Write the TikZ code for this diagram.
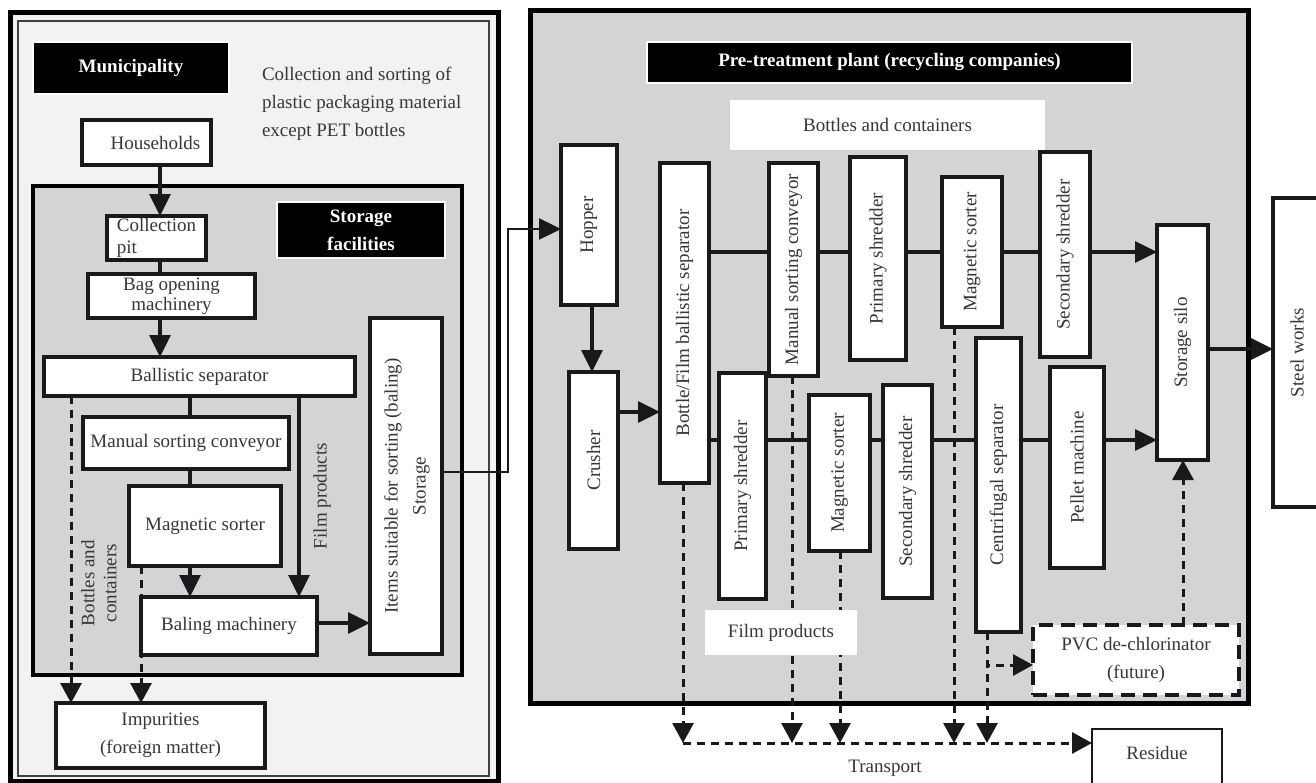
\documentclass[tikz,border=0pt]{standalone}
\usepackage{fontspec}
\setmainfont{Liberation Serif}
\usepackage{graphicx}
\usetikzlibrary{arrows.meta,calc}
\definecolor{panelgray}{RGB}{211,212,214}
\definecolor{lightbg}{RGB}{241,242,241}
\definecolor{txt}{RGB}{55,55,55}
\newcommand{\drawbox}[7]{\node[#6, minimum width={(#4)-(#2)}, minimum height={(#5)-(#3)}] (#1) at ({((#2)+(#4))/2},{((#3)+(#5))/2}) {#7};}
\tikzset{
 base/.style={inner sep=0pt, outer sep=0pt, text=txt, font=\fontsize{19}{28}\selectfont, align=center},
 box/.style={base, draw=black!90, line width=3.2pt, fill=white},
 frame/.style={base, draw=black, line width=5pt, fill=panelgray},
 title/.style={base, fill=black, draw=white, line width=1.5pt, text=white, font=\fontsize{19}{28}\selectfont\bfseries},
 conn/.style={draw=black!90, line width=3.2pt},
 arr/.style={conn, -{Triangle[length=22pt,width=21pt]}},
 dconn/.style={draw=black!90, line width=3pt, dash pattern=on 8pt off 6pt},
 darr/.style={dconn, -{Triangle[length=20pt,width=21pt]}},
}
\begin{document}
\begin{tikzpicture}[x=1pt,y=-1pt]
\useasboundingbox (0,0) rectangle (1316,782);
% ---------- left panel ----------
\drawbox{lpo}{10}{12}{498}{781}{base,draw=black,line width=5pt,fill=lightbg}{}
\drawbox{lpi}{18}{21}{489}{776}{base,draw=black!75,line width=1.5pt}{}
\drawbox{muni}{33}{42}{229}{94}{title}{Municipality}
\node[base, align=left, anchor=west] (coll) at (262,104) {Collection and sorting of\\plastic packaging material\\except PET bottles};
\drawbox{hh}{82}{120}{211}{165}{box}{\hspace*{18pt}Households}
\drawbox{stf}{33}{186}{462}{675}{frame,line width=4pt}{}
\drawbox{stl}{277}{202}{445}{258}{title}{Storage\\facilities}
\drawbox{pit}{107}{216}{206}{260}{box,align=left,font=\fontsize{19}{22}\selectfont}{Collection\\pit}
\drawbox{bag}{88}{274}{255}{318}{box,font=\fontsize{19}{20}\selectfont}{Bag opening\\machinery}
\drawbox{bal}{44}{357}{355}{396}{box}{Ballistic separator}
\drawbox{msl}{83}{417}{289}{469}{box}{Manual sorting conveyor}
\drawbox{mgl}{129}{486}{281}{566}{box}{Magnetic sorter}
\drawbox{bmc}{141}{597}{317}{655}{box}{Baling machinery}
\drawbox{its}{370}{318}{442}{654}{box}{\rotatebox{90}{\begin{tabular}{@{}c@{}}Items suitable for sorting (baling)\\Storage\end{tabular}}}
\drawbox{imp}{56}{703}{265}{768}{box}{Impurities\\(foreign matter)}
\node[base] (filmL) at (322,496) {\rotatebox{90}{Film products}};
\node[base] (btlL) at (101,583) {\rotatebox{90}{\fontsize{19}{22}\selectfont\begin{tabular}{@{}c@{}}Bottles and\\containers\end{tabular}}};
% ---------- right panel ----------
\drawbox{rp}{530}{10}{1248}{703}{frame}{}
\drawbox{ptl}{647}{42}{1132}{83}{title}{Pre-treatment plant (recycling companies)}
\drawbox{bcl}{730}{100}{1045}{150}{base,fill=white}{Bottles and containers}
\drawbox{hop}{561}{145}{617}{305}{box}{\rotatebox{90}{Hopper}}
\drawbox{cru}{569}{372}{618}{549}{box}{\rotatebox{90}{Crusher}}
\drawbox{bfs}{660}{163}{709}{483}{box}{\rotatebox{90}{Bottle/Film ballistic separator}}
\drawbox{msc}{769}{163}{818}{376}{box}{\rotatebox{90}{Manual sorting conveyor}}
\drawbox{ps1}{850}{157}{906}{360}{box}{\rotatebox{90}{Primary shredder}}
\drawbox{ms1}{942}{177}{1002}{327}{box}{\rotatebox{90}{Magnetic sorter}}
\drawbox{ss1}{1040}{152}{1090}{357}{box}{\rotatebox{90}{Secondary shredder}}
\drawbox{silo}{1157}{225}{1208}{460}{box}{\rotatebox{90}{Storage silo}}
\drawbox{stw}{1273}{198}{1321}{507}{box}{\rotatebox{90}{Steel works}}
\drawbox{ps2}{719}{373}{766}{599}{box}{\rotatebox{90}{Primary shredder}}
\drawbox{ms2}{809}{395}{870}{551}{box}{\rotatebox{90}{Magnetic sorter}}
\drawbox{ss2}{883}{385}{932}{598}{box}{\rotatebox{90}{Secondary shredder}}
\drawbox{cfs}{976}{338}{1021}{632}{box}{\rotatebox{90}{Centrifugal separator}}
\drawbox{pel}{1050}{367}{1104}{568}{box}{\rotatebox{90}{Pellet machine}}
\drawbox{pvc}{1033}{625}{1239}{695}{box,line width=3.4pt,dash pattern=on 14pt off 8pt}{PVC de-chlorinator\\(future)}
\drawbox{res}{1092}{729}{1222}{800}{box,line width=2.6pt}{}
\node[base] (resT) at (1157,753) {Residue};
\node[base] (trn) at (885,768) {Transport};
% ---------- coordinates ----------
\coordinate (c160) at (160,0);
\coordinate (c190) at (190,0);
\coordinate (c299) at (299,0);
\coordinate (c71) at (71,0);
\coordinate (c141) at (141,0);
\coordinate (r623) at (0,623);
\coordinate (j1) at (508,472);
\coordinate (j2) at (508,229);
\coordinate (c592) at (592,0);
\coordinate (r412) at (0,412);
\coordinate (r252) at (0,252);
\coordinate (r440) at (0,440);
\coordinate (r349) at (0,349);
\coordinate (c1183) at (1183,0);
\coordinate (r665) at (0,665);
\coordinate (c987) at (987,0);
\coordinate (t683) at (683,743);
\coordinate (t792) at (792,743);
\coordinate (t840) at (840,743);
\coordinate (t954) at (954,743);
\coordinate (t987) at (987,743);
% ---------- left connectors ----------
\draw[arr] (hh.south -| c160) -- (pit.north -| c160);
\draw[conn] (pit.south -| c160) -- (bag.north -| c160);
\draw[arr] (bag.south -| c160) -- (bal.north -| c160);
\draw[conn] (bal.south -| c190) -- (msl.north -| c190);
\draw[conn] (msl.south -| c190) -- (mgl.north -| c190);
\draw[arr] (mgl.south -| c190) -- (bmc.north -| c190);
\draw[arr] (bal.south -| c299) -- (bmc.north -| c299);
\draw[arr] (bmc.east |- r623) -- (its.west |- r623);
\draw[conn, line width=2.4pt, -{Triangle[length=22pt,width=21pt]}] (its.east |- j1) -- (j1) -- (j2) -- (hop.west |- j2);
\draw[darr] (bal.south -| c71) -- (imp.north -| c71);
\draw[darr] (mgl.south -| c141) -- (imp.north -| c141);
% ---------- right connectors ----------
\draw[arr] (hop.south -| c592) -- (cru.north -| c592);
\draw[arr] (cru.east |- r412) -- (bfs.west |- r412);
\draw[conn] (bfs.east |- r252) -- (msc.west |- r252);
\draw[conn] (msc.east |- r252) -- (ps1.west |- r252);
\draw[conn] (ps1.east |- r252) -- (ms1.west |- r252);
\draw[conn] (ms1.east |- r252) -- (ss1.west |- r252);
\draw[arr] (ss1.east |- r252) -- (silo.west |- r252);
\draw[conn] (bfs.east |- r440) -- (ps2.west |- r440);
\draw[conn] (ps2.east |- r440) -- (ms2.west |- r440);
\draw[conn] (ms2.east |- r440) -- (ss2.west |- r440);
\draw[conn] (ss2.east |- r440) -- (cfs.west |- r440);
\draw[conn] (cfs.east |- r440) -- (pel.west |- r440);
\draw[arr] (pel.east |- r440) -- (silo.west |- r440);
\draw[arr] (silo.east |- r349) -- (stw.west |- r349);
\draw[darr] (pvc.north -| c1183) -- (silo.south -| c1183);
\draw[darr] (bfs.south -| t683) -- (t683);
\draw[darr] (msc.south -| t792) -- (t792);
\draw[darr] (ms2.south -| t840) -- (t840);
\draw[darr] (ms1.south -| t954) -- (t954);
\draw[darr] (cfs.south -| t987) -- (t987);
\draw[darr] (cfs.south -| c987) |- (pvc.west |- r665);
\draw[darr] (t683) -- (res.west |- t683);
\drawbox{fpl}{705}{610}{857}{655}{base,fill=white}{Film products}
\end{tikzpicture}
\end{document}
